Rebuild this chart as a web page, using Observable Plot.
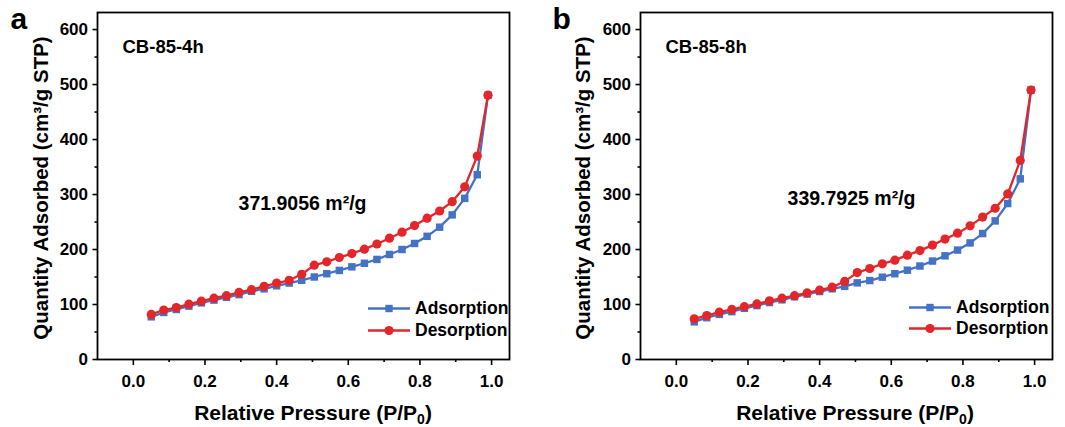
<!DOCTYPE html>
<html>
<head>
<meta charset="utf-8">
<script src="https://cdn.jsdelivr.net/npm/d3@7"></script>
<script src="https://cdn.jsdelivr.net/npm/@observablehq/plot@0.6"></script>
<style>
  html, body { margin: 0; padding: 0; background: #fff; }
  #wrap { position: relative; width: 1065px; height: 427px; overflow: hidden;
          font-family: "Liberation Sans", Arial, sans-serif; font-weight: bold; color: #000; }
  .panel { position: absolute; top: 0; }
  .xlabel { position: absolute; font-size: 21px; white-space: nowrap; transform: translate(-50%, -50%); }
  .xlabel sub { font-size: 14px; vertical-align: -4px; line-height: 0; }
  .legend { position: absolute; font-size: 17.5px; }
  .legend .row { position: absolute; display: flex; align-items: center; white-space: nowrap; transform: translateY(-50%); }
  .legend svg { display: block; margin-right: 5px; }
</style>
</head>
<body>
<div id="wrap"></div>
<script>
// ---- data ----
const pressure = [0.05, 0.085, 0.12, 0.155, 0.19, 0.225, 0.26, 0.295, 0.33, 0.365, 0.40, 0.435, 0.47, 0.505,
                  0.54, 0.575, 0.61, 0.645, 0.68, 0.715, 0.75, 0.785, 0.82, 0.855, 0.89, 0.925, 0.96, 0.99];
const adsorptionA = [77.6, 85.5, 91, 97, 103, 108, 113, 118, 124, 128.5, 134, 139, 144, 150,
                     156, 162, 168.5, 175, 182, 191, 200, 211, 224, 240.6, 263, 293, 336, 480.6];
const desorptionA = [82, 90, 94.5, 100.6, 106, 111.5, 116, 122, 127, 133, 139, 144, 155, 171.5,
                     177.6, 185.5, 192.7, 200.6, 210, 220.6, 231.5, 243.6, 257, 270, 287, 314, 370, 480.6];
const adsorptionB = [68.5, 76, 82, 87, 93, 98, 103.6, 108.5, 114, 119, 123.6, 128.5, 133, 139.4,
                     143.6, 149.7, 156, 162.4, 170, 179, 188.5, 199, 212, 229, 252, 283.6, 328.5, 490];
const desorptionB = [74, 80, 86, 91, 96, 101, 106.7, 111.5, 116, 121, 126, 131.5, 142, 158,
                     165.5, 174, 180.6, 189.7, 198, 208, 219, 229.7, 243, 259, 275, 301, 362, 490];
const samples = ["CB-85-4h", "CB-85-8h"];
const surfaceAreas = ["371.9056 m²/g", "339.7925 m²/g"];
const panelLetters = ["a", "b"];
const seriesNames = ["Adsorption", "Desorption"];
const yTicks = [0, 100, 200, 300, 400, 500, 600];
const yMinorTicks = [50, 150, 250, 350, 450, 550];
const xTicks = [0.0, 0.2, 0.4, 0.6, 0.8, 1.0];
const xMinorTicks = [0.1, 0.3, 0.5, 0.7, 0.9];
const yTitle = "Quantity Adsorbed (cm³/g STP)";
const xTitle = "Relative Pressure (P/P<sub>0</sub>)";

const BLUE = "#4472C4", RED = "#E3262A";
const FONT = "'Liberation Sans', Arial, sans-serif";

const wrap = document.getElementById("wrap");

function makePanel(cfg) {
  const ads = pressure.map((p, i) => ({p, q: cfg.ads[i]}));
  const des = pressure.map((p, i) => ({p, q: cfg.des[i]}));
  const plot = Plot.plot({
    width: cfg.width, height: 427,
    marginLeft: cfg.ml, marginRight: cfg.mr, marginTop: 12, marginBottom: 68,
    style: {fontFamily: FONT, fontWeight: "bold", fontSize: "17px", color: "#000", background: "transparent"},
    x: {domain: [-0.1, 1.05]},
    y: {domain: [0, 631]},
    marks: [
      Plot.axisY({ticks: yTicks, tickSize: 4.5, tickPadding: 5, tickFormat: d => String(d), label: null,
                  fontSize: 17, fontWeight: "bold", strokeWidth: 1.6}),
      Plot.axisY({ticks: yMinorTicks, tickSize: 2.5, tickFormat: () => "", label: null, strokeWidth: 1.6}),
      Plot.axisX({ticks: xTicks, tickSize: 6, tickPadding: 9, tickFormat: d3.format(".1f"), label: null,
                  fontSize: 17, fontWeight: "bold", strokeWidth: 1.6}),
      Plot.axisX({ticks: xMinorTicks, tickSize: 3, tickFormat: () => "", label: null, strokeWidth: 1.6}),
      Plot.frame({stroke: "#000", strokeWidth: 1.8}),
      Plot.line(ads, {x: "p", y: "q", stroke: BLUE, strokeWidth: 2.3}),
      Plot.dot(ads, {x: "p", y: "q", symbol: "square", fill: BLUE, r: 4.2}),
      Plot.line(des, {x: "p", y: "q", stroke: RED, strokeWidth: 2.3}),
      Plot.dot(des, {x: "p", y: "q", symbol: "circle", fill: RED, r: 4.6}),
      Plot.text([cfg.sample], {text: d => d, frameAnchor: "top-left", dx: 25, dy: 35, textAnchor: "start",
                 lineAnchor: "middle", fontSize: 18.5, fontWeight: "bold"}),
      Plot.text([cfg.bet], {text: d => d, frameAnchor: "top-left", dx: cfg.betDx, dy: cfg.betDy,
                 textAnchor: "middle", lineAnchor: "middle", fontSize: 19.5, fontWeight: "bold"}),
      Plot.text([yTitle], {text: d => d, frameAnchor: "left", rotate: -90, dx: cfg.yDx, dy: 2,
                 textAnchor: "middle", lineAnchor: "middle", fontSize: 20.5, fontWeight: "bold"}),
      Plot.text([cfg.letter], {text: d => d, frameAnchor: "top-left", dx: cfg.letterDx, dy: 16,
                 textAnchor: "start", lineAnchor: "bottom", fontSize: 30, fontWeight: "bold"})
    ]
  });
  const div = document.createElement("div");
  div.className = "panel";
  div.style.left = cfg.left + "px";
  div.appendChild(plot);
  wrap.appendChild(div);

  const xl = document.createElement("div");
  xl.className = "xlabel";
  xl.innerHTML = xTitle;
  xl.style.left = cfg.xLabelX + "px";
  xl.style.top = "413px";
  wrap.appendChild(xl);

  const lg = document.createElement("div");
  lg.className = "legend";
  lg.style.left = cfg.legX + "px";
  lg.style.top = "0px";
  const rows = [
    {name: seriesNames[0], color: BLUE, shape: "square", y: cfg.legY[0]},
    {name: seriesNames[1], color: RED, shape: "circle", y: cfg.legY[1]}
  ];
  for (const r of rows) {
    const row = document.createElement("div");
    row.className = "row";
    row.style.top = r.y + "px";
    const mk = r.shape === "square"
      ? '<rect x="17.3" y="5.3" width="7.4" height="7.4" fill="' + r.color + '"/>'
      : '<circle cx="21" cy="9" r="4.6" fill="' + r.color + '"/>';
    row.innerHTML = '<svg width="42" height="18"><line x1="0" x2="42" y1="9" y2="9" stroke="' + r.color +
      '" stroke-width="2.3"/>' + mk + '</svg><span>' + r.name + '</span>';
    lg.appendChild(row);
  }
  wrap.appendChild(lg);
}

makePanel({ads: adsorptionA, des: desorptionA, sample: samples[0], bet: surfaceAreas[0], letter: panelLetters[0],
           left: 0, width: 530, ml: 97, mr: 21, betDx: 205, betDy: 191, yDx: -56, letterDx: -87,
           xLabelX: 313, legX: 368, legY: [308, 330]});
makePanel({ads: adsorptionB, des: desorptionB, sample: samples[1], bet: surfaceAreas[1], letter: panelLetters[1],
           left: 530, width: 535, ml: 110, mr: 13, betDx: 211, betDy: 186, yDx: -57, letterDx: -88,
           xLabelX: 855, legX: 909, legY: [307, 328]});
</script>
</body>
</html>
